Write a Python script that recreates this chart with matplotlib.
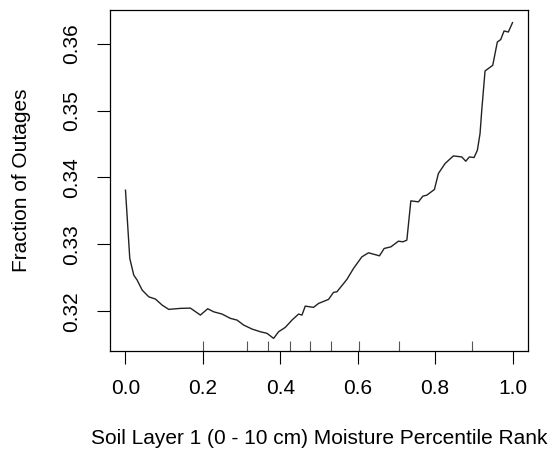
import matplotlib
matplotlib.use("Agg")
import matplotlib.pyplot as plt

# partial dependence curve
pct_rank = [0.0, 0.0111, 0.0214, 0.0302, 0.0431, 0.0601, 0.0774, 0.0947, 0.1117, 0.1419,
            0.1677, 0.1935, 0.2124, 0.2279, 0.2495, 0.2710, 0.2883, 0.3053, 0.3270, 0.3484,
            0.3657, 0.3827, 0.3956, 0.4129, 0.4302, 0.4472, 0.4560, 0.4645, 0.4859, 0.4988,
            0.5246, 0.5375, 0.5463, 0.5721, 0.5892, 0.6108, 0.6279, 0.6563, 0.6684, 0.6857,
            0.7053, 0.7166, 0.7270, 0.7373, 0.7569, 0.7683, 0.7786, 0.7982, 0.8085, 0.8258,
            0.8472, 0.8689, 0.8792, 0.8885, 0.9006, 0.9092, 0.9161, 0.9205, 0.9290, 0.9489,
            0.9608, 0.9695, 0.9781, 0.9892, 1.0]
frac_outages = [0.33810, 0.32791, 0.32542, 0.32467, 0.32318, 0.32218, 0.32184, 0.32094, 0.32030, 0.32045,
                0.32049, 0.31945, 0.32039, 0.31994, 0.31960, 0.31896, 0.31870, 0.31796, 0.31736, 0.31696,
                0.31672, 0.31597, 0.31696, 0.31761, 0.31870, 0.31960, 0.31945, 0.32079, 0.32060, 0.32119,
                0.32179, 0.32284, 0.32293, 0.32478, 0.32642, 0.32815, 0.32875, 0.32830, 0.32940, 0.32964,
                0.33049, 0.33039, 0.33064, 0.33651, 0.33636, 0.33721, 0.33736, 0.33821, 0.34060, 0.34209,
                0.34322, 0.34307, 0.34243, 0.34307, 0.34298, 0.34407, 0.34657, 0.35004, 0.35591, 0.35676,
                0.36024, 0.36060, 0.36188, 0.36173, 0.36313]

# deciles of the predictor (rug)
deciles = [0.199, 0.314, 0.367, 0.424, 0.478, 0.530, 0.603, 0.706, 0.895]

x_ticks = [0.0, 0.2, 0.4, 0.6, 0.8, 1.0]
y_ticks = [0.32, 0.33, 0.34, 0.35, 0.36]

plt.rcParams["font.family"] = ["Liberation Sans", "DejaVu Sans"]
FS = 15

fig = plt.figure(figsize=(5.56, 4.57), dpi=100)
ax = fig.add_axes([110 / 556, 106 / 457, 418 / 556, 341 / 457])

ax.plot(pct_rank, frac_outages, color="#222222", linewidth=1.0)

# R-style 4% padding
xr = max(pct_rank) - min(pct_rank)
yr = max(frac_outages) - min(frac_outages)
ax.set_xlim(min(pct_rank) - 0.04 * xr, max(pct_rank) + 0.04 * xr)
ymin = min(frac_outages) - 0.04 * yr
ax.set_ylim(ymin, max(frac_outages) + 0.04 * yr)

ax.vlines(deciles, ymin, ymin + 0.03 * (1.08 * yr), color="#555555", linewidth=0.8)

ax.set_xticks(x_ticks)
ax.set_xticklabels([f"{v:.1f}" for v in x_ticks])
ax.set_yticks(y_ticks)
ax.set_yticklabels([f"{v:.2f}" for v in y_ticks], rotation=90, va="center")
ax.tick_params(direction="out", length=9.5, width=0.8, labelsize=FS, colors="black")
ax.tick_params(axis="x", pad=11)
ax.tick_params(axis="y", pad=11)

for s in ax.spines.values():
    s.set_linewidth(0.9)

ax.set_xlabel("Soil Layer 1 (0 - 10 cm) Moisture Percentile Rank", fontsize=FS, labelpad=22)
ax.set_ylabel("Fraction of Outages", fontsize=FS, labelpad=23)

fig.savefig("out.png", dpi=100)
